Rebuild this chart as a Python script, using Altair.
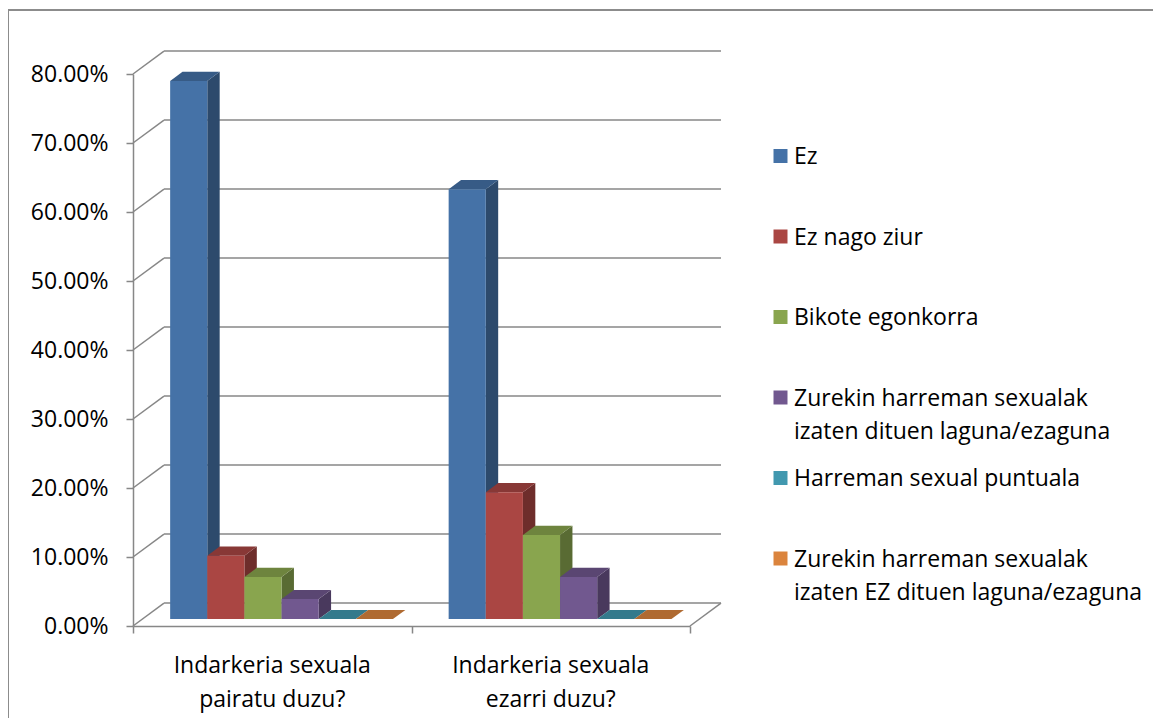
import altair as alt
import pandas as pd

# ---------------- data ----------------
categories = ["Indarkeria sexuala\npairatu duzu?", "Indarkeria sexuala\nezarri duzu?"]
series = [
    "Ez",
    "Ez nago ziur",
    "Bikote egonkorra",
    "Zurekin harreman sexualak izaten dituen laguna/ezaguna",
    "Harreman sexual puntuala",
    "Zurekin harreman sexualak izaten EZ dituen laguna/ezaguna",
]
legend_labels = [
    "Ez",
    "Ez nago ziur",
    "Bikote egonkorra",
    "Zurekin harreman sexualak\nizaten dituen laguna/ezaguna",
    "Harreman sexual puntuala",
    "Zurekin harreman sexualak\nizaten EZ dituen laguna/ezaguna",
]
pairatu = [0.780, 0.092, 0.061, 0.029, 0.0, 0.0]
ezarri = [0.623, 0.184, 0.122, 0.061, 0.0, 0.0]
y_ticks = [0, 0.1, 0.2, 0.3, 0.4, 0.5, 0.6, 0.7, 0.8]

# ---------------- style ----------------
front_colors = ["#4572A7", "#AA4643", "#89A54E", "#71588F", "#4198AF", "#DB843D"]
top_colors = ["#375B86", "#883836", "#6E843E", "#5A4672", "#347A8C", "#AF6A31"]
side_colors = ["#2D4A6C", "#6E2D2B", "#596B33", "#49395D", "#2A6372", "#8E5628"]
GRID = "#878787"
FONT = "Open Sans"
FS = 23

# 3D geometry (in data units)
GAP = 0.75                       # half of Excel gap width 150 %
NB = len(series)
BW = 1.0 / (NB + 2 * GAP)        # bar width in category units
DDX = 0.1113                     # depth along x (category units)
DDY = 0.0333                     # depth along y (value units)
F0 = 0.3                         # bar front plane depth fraction
FD = 0.4                         # bar depth fraction

xscale = alt.Scale(domain=[0, 2], nice=False, zero=False)
yscale = alt.Scale(domain=[0, 0.8], nice=False, zero=False)
xaxis = alt.Axis(values=[0, 1, 2], labels=False, grid=False, title=None,
                 tickSize=7, tickColor=GRID, tickWidth=1.5,
                 domainColor=GRID, domainWidth=1.5)
yaxis = alt.Axis(values=y_ticks, format=".2%", grid=False, title=None,
                 tickSize=7, tickColor=GRID, tickWidth=1.5,
                 domainColor=GRID, domainWidth=1.5,
                 labelFont=FONT, labelFontSize=FS, labelColor="#000000",
                 labelPadding=18)

# ---------------- tables ----------------
front_rows, top_rows, side_rows = [], [], []
for c, vals in enumerate([pairatu, ezarri]):
    for i, (s, v) in enumerate(zip(series, vals)):
        xl = c + (GAP + i) * BW + F0 * DDX
        xr = xl + BW
        yb = F0 * DDY
        yt = v + F0 * DDY
        fid = f"{c}-{i}"
        front_rows.append(dict(series=s, xl=xl, xr=xr, yb=yb, yt=yt))
        top_rows.append(dict(series=s, face=fid, y=yt, xa=xl, xb=xr))
        top_rows.append(dict(series=s, face=fid, y=yt + FD * DDY,
                             xa=xl + FD * DDX, xb=xr + FD * DDX))
        side_rows.append(dict(series=s, face=fid, x=xr, ya=yb, yb2=yt))
        side_rows.append(dict(series=s, face=fid, x=xr + FD * DDX,
                              ya=yb + FD * DDY, yb2=yt + FD * DDY))
front_df = pd.DataFrame(front_rows)
top_df = pd.DataFrame(top_rows)
side_df = pd.DataFrame(side_rows)

grid_df = pd.DataFrame({"v": y_ticks})
grid_df["vb"] = grid_df["v"] + DDY
grid_df["x0"] = 0.0
grid_df["xb"] = DDX
grid_df["xe"] = 2 + DDX

floor_df = pd.DataFrame({"x": [2.0], "x2": [2 + DDX], "y": [0.0], "y2": [DDY]})
cat_df = pd.DataFrame({"label": categories, "x": [0.5, 1.5]})
legend_df = pd.DataFrame({"series": series, "label": legend_labels})

# ---------------- layers ----------------
one = pd.DataFrame({"a": [0]})
frame_top = alt.Chart(one).mark_rule(color="#8C8C8C", strokeWidth=2).encode(
    x=alt.value(-125), x2=alt.value(1020), y=alt.value(-64))
frame_left = alt.Chart(one).mark_rule(color="#8C8C8C", strokeWidth=2).encode(
    x=alt.value(-125), y=alt.value(-64), y2=alt.value(644))

back_grid = alt.Chart(grid_df).mark_rule(color=GRID, strokeWidth=1.5).encode(
    x=alt.X("xb:Q", scale=xscale, axis=xaxis),
    x2="xe:Q",
    y=alt.Y("vb:Q", scale=yscale, axis=yaxis),
)
left_wall = alt.Chart(grid_df).mark_rule(color=GRID, strokeWidth=1.5).encode(
    x=alt.X("x0:Q", scale=xscale, axis=xaxis),
    x2="xb:Q",
    y=alt.Y("v:Q", scale=yscale, axis=yaxis),
    y2="vb:Q",
)
floor_right = alt.Chart(floor_df).mark_rule(color=GRID, strokeWidth=1.5).encode(
    x=alt.X("x:Q", scale=xscale, axis=xaxis),
    x2="x2:Q",
    y=alt.Y("y:Q", scale=yscale, axis=yaxis),
    y2="y2:Q",
)

sides = alt.Chart(side_df).mark_area(orient="vertical").encode(
    x=alt.X("x:Q", scale=xscale, axis=xaxis),
    y=alt.Y("ya:Q", scale=yscale, axis=yaxis, stack=None),
    y2="yb2:Q",
    detail="face:N",
    color=alt.Color("series:N", scale=alt.Scale(domain=series, range=side_colors), legend=None),
)
tops = alt.Chart(top_df).mark_area(orient="horizontal").encode(
    y=alt.Y("y:Q", scale=yscale, axis=yaxis),
    x=alt.X("xa:Q", scale=xscale, axis=xaxis, stack=None),
    x2="xb:Q",
    detail="face:N",
    color=alt.Color("series:N", scale=alt.Scale(domain=series, range=top_colors), legend=None),
)
fronts = alt.Chart(front_df).mark_rect().encode(
    x=alt.X("xl:Q", scale=xscale, axis=xaxis),
    x2="xr:Q",
    y=alt.Y("yb:Q", scale=yscale, axis=yaxis),
    y2="yt:Q",
    color=alt.Color("series:N", scale=alt.Scale(domain=series, range=front_colors), legend=None),
)
cat_labels = alt.Chart(cat_df).mark_text(
    font=FONT, fontSize=FS, color="#000000", lineBreak="\n", lineHeight=34,
    baseline="alphabetic", align="center", dy=47
).encode(
    x=alt.X("x:Q", scale=xscale, axis=xaxis),
    y=alt.datum(0, scale=yscale),
    text="label:N",
)

main = alt.layer(frame_top, frame_left, back_grid, left_wall, floor_right, sides,
                 tops, fronts, cat_labels).resolve_scale(color="independent")

legend_y = alt.Y("series:N",
                 scale=alt.Scale(domain=series, range=[82, 484.5], padding=0),
                 axis=None)
leg_sq = alt.Chart(legend_df).mark_square(size=196, opacity=1).encode(
    x=alt.value(647.5),
    y=legend_y,
    color=alt.Color("series:N", scale=alt.Scale(domain=series, range=front_colors), legend=None),
)
leg_tx = alt.Chart(legend_df).mark_text(
    font=FONT, fontSize=FS, color="#000000", lineBreak="\n", lineHeight=33,
    baseline="alphabetic", align="left", dy=8
).encode(
    x=alt.value(661),
    y=legend_y,
    text="label:N",
)
legend = alt.layer(leg_sq, leg_tx)

chart = alt.layer(main, legend).resolve_scale(
    y="independent", color="independent"
).properties(
    width=557,
    height=552,
    padding={"left": 125, "top": 66, "right": 463, "bottom": 92},
    autosize=alt.AutoSizeParams(type="none"),
).configure_view(stroke="transparent")

chart.save("out.html", embed_options={"renderer": "svg", "actions": False})
